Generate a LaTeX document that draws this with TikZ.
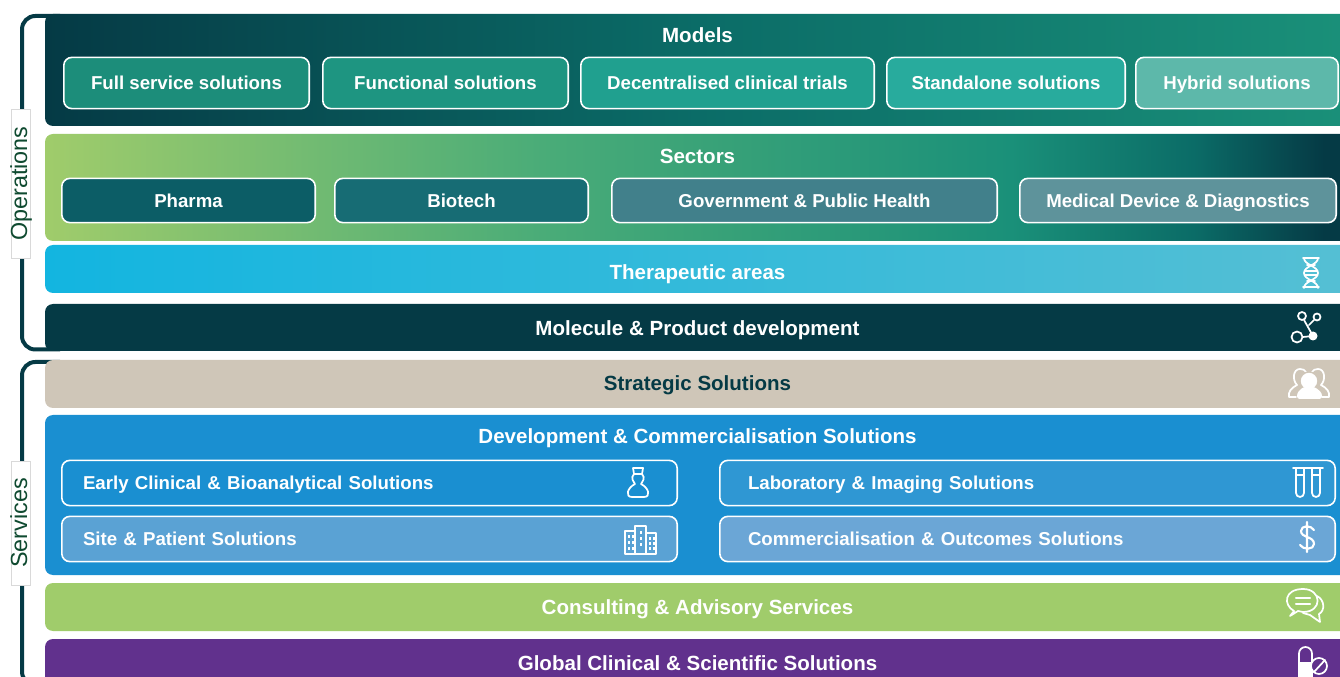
\documentclass[tikz,border=0pt]{standalone}
\usepackage{fontspec}
\setmainfont{Liberation Sans}
\definecolor{navy}{HTML}{053A45}
\definecolor{lime}{HTML}{A0CC6B}
\definecolor{sand}{HTML}{CFC6B8}
\definecolor{azure}{HTML}{1A8FD1}
\definecolor{grape}{HTML}{61318D}
\definecolor{leaf}{HTML}{0F4A30}
\definecolor{seamid}{HTML}{0B6C67}
\definecolor{seaend}{HTML}{1A9079}
\definecolor{sectormid}{HTML}{4AAC78}
\definecolor{skyleft}{HTML}{13B5E0}
\definecolor{skyright}{HTML}{55BFD4}
\definecolor{fullfill}{HTML}{1C8D7A}
\definecolor{functionalfill}{HTML}{1E9581}
\definecolor{trialsfill}{HTML}{20A08F}
\definecolor{standalonefill}{HTML}{28AB9D}
\definecolor{hybridfill}{HTML}{5DB8AA}
\definecolor{pharmafill}{HTML}{0C5D66}
\definecolor{biotechfill}{HTML}{176C74}
\definecolor{governmentfill}{HTML}{41808B}
\definecolor{devicefill}{HTML}{5E939B}
\definecolor{sitefill}{HTML}{5AA2D4}
\definecolor{labfill}{HTML}{2F97D3}
\definecolor{outcomesfill}{HTML}{6BA6D6}
\pgfdeclarehorizontalshading{modelshade}{100bp}{color(0bp)=(navy); color(25bp)=(navy);
  color(50bp)=(seamid); color(75bp)=(seaend); color(100bp)=(seaend)}
\pgfdeclarehorizontalshading{sectorshade}{100bp}{color(0bp)=(lime); color(25bp)=(lime);
  color(44bp)=(sectormid); color(62bp)=(seaend); color(69bp)=(seamid); color(74bp)=(navy); color(100bp)=(navy)}
\tikzset{
  band/.style={minimum width=978.75pt, minimum height=#1*0.75pt, rounded corners=6pt, inner sep=0pt},
  bandtitle/.style={font=\bfseries\fontsize{15.4}{18}\selectfont, text=white, inner sep=0pt,
    text height=11pt, text depth=0pt},
  tile/.style 2 args={draw=white, line width=1.2pt, rounded corners=6pt, inner sep=0pt,
    minimum width=#1*0.75pt-1.2pt, minimum height=#2*0.75pt-0.6pt, text=white, text height=10pt, text depth=0pt,
    font=\bfseries\fontsize{14}{17}\selectfont},
  devtile/.style={tile={617}{46}, inner xsep=#1*0.75pt-0.6pt, text width={(617-2*#1)*0.75pt}, align=left},
  bracket/.style={draw=navy, line width=3pt, rounded corners=10pt},
  sidelabel/.style={fill=white, draw=black!15, line width=0.4pt, rotate=90, inner sep=0pt,
    text height=12pt, text depth=2.25pt, minimum height=14.25pt,
    text=leaf, font=\fontsize{17.5}{22}\selectfont},
  icon/.style={draw=white, line width=1.3pt, line cap=round, line join=round},
}
\begin{document}
\begin{tikzpicture}[x=0.75pt,y=-0.75pt]
\useasboundingbox (0,0) rectangle (1340,677);
% brackets
\draw[bracket] (60,16) -| (22,349.5) -- (60,349.5);
\draw[bracket] (60,362) -| (22,685) -- (60,685);
% bands
\node[band=112, shade, shading=modelshade] (models) at (697.5,70) {};
\node[band=107, shade, shading=sectorshade] (sectors) at (697.5,187.5) {};
\node[band=48, left color=skyleft, right color=skyright] (areas) at (697.5,269) {};
\node[band=47, fill=navy] (molecule) at (697.5,327.5) {};
\node[band=48, fill=sand] (strategic) at (697.5,384) {};
\node[band=160, fill=azure] (dev) at (697.5,495) {};
\node[band=48, fill=lime] (consulting) at (697.5,607) {};
\node[band=48, fill=grape] (global) at (697.5,663) {};
% titles
\node[bandtitle] (modelstitle) at (697.5,35) {Models};
\node[bandtitle] (sectorstitle) at (697.5,156) {Sectors};
\node[bandtitle] (areastitle) at (697.5,272) {Therapeutic areas};
\node[bandtitle] (moleculetitle) at (697.5,328) {Molecule \& Product development};
\node[bandtitle, text=navy] (strategictitle) at (697.5,383) {Strategic Solutions};
\node[bandtitle] (devtitle) at (697.5,436) {Development \& Commercialisation Solutions};
\node[bandtitle] (consultingtitle) at (697.5,607) {Consulting \& Advisory Services};
\node[bandtitle] (globaltitle) at (697.5,663) {Global Clinical \& Scientific Solutions};
% side labels
\node[sidelabel, minimum width=149*0.75pt] (operations) at (20.5,183.5) {Operations};
\node[sidelabel, minimum width=124*0.75pt] (services) at (20.5,523) {Services};
% model tiles
\node[tile={247}{52}, fill=fullfill] (full) at (186.5,83) {Full service solutions};
\node[tile={247}{52}, fill=functionalfill] (functional) at (445.5,83) {Functional solutions};
\node[tile={295}{52}, fill=trialsfill] (trials) at (727.5,83) {Decentralised clinical trials};
\node[tile={240}{52}, fill=standalonefill] (standalone) at (1006,83) {Standalone solutions};
\node[tile={204}{52}, fill=hybridfill] (hybrid) at (1237,83) {Hybrid solutions};
% sector tiles
\node[tile={255}{45}, fill=pharmafill] (pharma) at (188.5,200.5) {Pharma};
\node[tile={255}{45}, fill=biotechfill] (biotech) at (461.5,200.5) {Biotech};
\node[tile={387}{45}, fill=governmentfill] (government) at (804.5,200.5) {Government \& Public Health};
\node[tile={318}{45}, fill=devicefill] (device) at (1178,200.5) {Medical Device \& Diagnostics};
% development tiles
\node[devtile=22, fill=azure] (early) at (369.5,483) {Early Clinical \& Bioanalytical Solutions};
\node[devtile=29, fill=labfill] (laboratory) at (1027.5,483) {Laboratory \& Imaging Solutions};
\node[devtile=22, fill=sitefill] (site) at (369.5,539) {Site \& Patient Solutions};
\node[devtile=29, fill=outcomesfill] (outcomes) at (1027.5,539) {Commercialisation \& Outcomes Solutions};
% icons
\draw[icon] (1304,258) .. controls (1304,265) and (1318,266) .. (1318,273) .. controls (1318,280) and (1304,281) .. (1304,288);
\draw[icon] (1318,258) .. controls (1318,265) and (1304,266) .. (1304,273) .. controls (1304,280) and (1318,281) .. (1318,288);
\draw[icon] (1303,258) -- (1319,258) (1307,265) -- (1315,265) (1305,271) -- (1317,271) (1305,275) -- (1317,275) (1307,281) -- (1315,281) (1303,287) -- (1319,287);
\draw[icon] (1302,316) circle (4) (1317,317) circle (3.5) (1297,337) circle (5.5);
\fill[white] (1313,336) circle (4.5);
\draw[icon] (1304,320) -- (1313,336) -- (1303,337) (1314,320) -- (1309,325);
% people
\draw[icon] (1296,397) -- (1289,397) .. controls (1288,392) and (1291,388) .. (1297,385) .. controls (1292,380) and (1293,369) .. (1300,369) .. controls (1303,369) and (1305,370) .. (1306,372);
\draw[icon] (1322,397) -- (1329,397) .. controls (1330,392) and (1327,388) .. (1321,385) .. controls (1326,380) and (1325,369) .. (1318,369) .. controls (1315,369) and (1313,370) .. (1312,372);
\fill[white, draw=sand, line width=1pt] (1309,381) circle (9);
\fill[white, rounded corners=2pt] (1297,399) -- (1297,393) -- (1303,387) -- (1315,387) -- (1322,393) -- (1322,399) -- cycle;
% flask figure
\draw[icon] (633,468) -- (643,468) -- (642,474) -- (634,474) -- cycle;
\draw[icon] (634,474) .. controls (630,478) and (634,482) .. (635,484) .. controls (627,488) and (625,497) .. (632,497) -- (644,497) .. controls (651,497) and (649,488) .. (641,484) .. controls (642,482) and (646,478) .. (642,474);
% test tubes
\draw[icon] (1293,468) -- (1323,468) (1296,475) -- (1304,475) (1312,475) -- (1320,475);
\draw[icon] (1296,468) -- (1296,493) arc (180:0:4) -- (1304,468);
\draw[icon] (1312,468) -- (1312,493) arc (180:0:4) -- (1320,468);
% dollar
\draw[icon, line width=1.6pt] (1314,530) .. controls (1311,525) and (1301,525) .. (1301,531) .. controls (1301,538) and (1314,536) .. (1314,544) .. controls (1314,550) and (1303,550) .. (1300,545) (1307,522) -- (1307,552);
% buildings
\draw[icon] (625,531) rectangle (635,554) (635,526) rectangle (646,554) (646,533) rectangle (656,554);
\foreach \x in {628,632} \foreach \y in {535,541,547} \fill[white] (\x,\y) rectangle ++(2,3);
\foreach \y in {531,537,543} \fill[white] (640,\y) rectangle ++(2,3);
\foreach \x in {649,653} \foreach \y in {537,542,547} \fill[white] (\x,\y) rectangle ++(2,3);
% speech bubbles
\draw[icon] (1317,596) .. controls (1325,600) and (1325,611) .. (1319,614) -- (1320,622) -- (1310,615) -- (1303,613);
\draw[icon] (1294,611) .. controls (1283,605) and (1284,589) .. (1303,589) .. controls (1322,589) and (1323,612) .. (1303,612) -- (1298,611) -- (1290,616) -- cycle;
\draw[icon, line width=1.6pt] (1296,598) -- (1310,598) (1296,604) -- (1310,604);
% pill
\draw[icon] (1299,663) -- (1299,653.5) arc (180:360:6.5) -- (1312,663);
\fill[white] (1298.2,662) rectangle (1312.8,680);
\draw[icon, fill=grape] (1319,666) circle (8);
\draw[icon] (1314,672) -- (1325,660);
\end{tikzpicture}
\end{document}
